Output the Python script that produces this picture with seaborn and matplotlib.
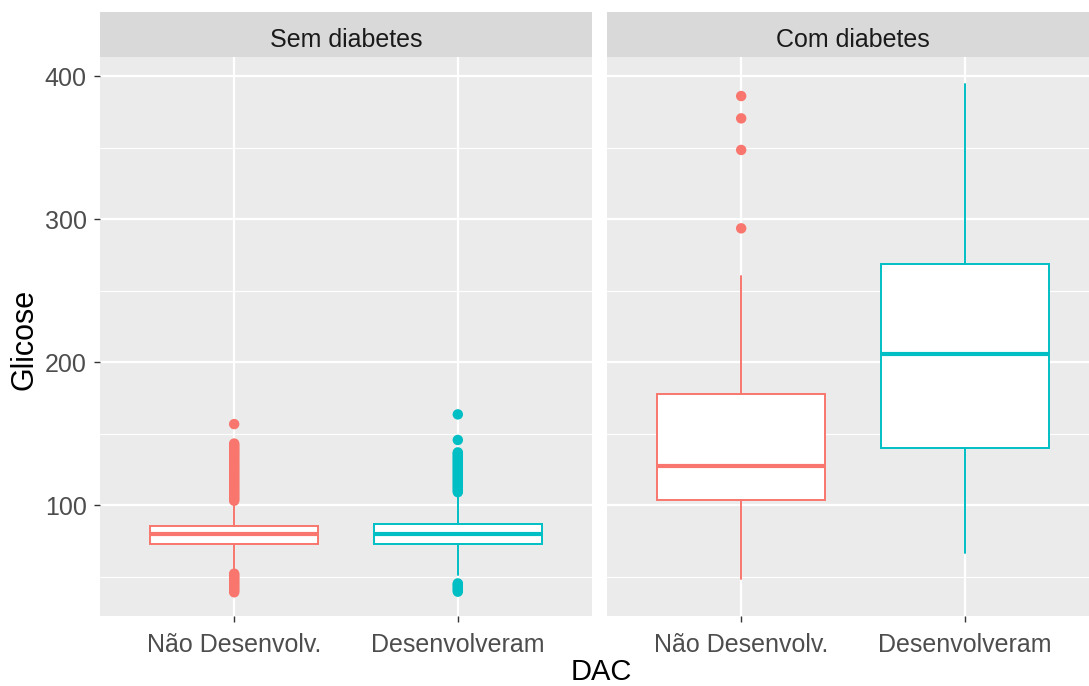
import matplotlib
matplotlib.use("Agg")
import matplotlib.pyplot as plt
import seaborn as sns
import pandas as pd
from matplotlib.patches import Rectangle

# ---------------- data ----------------
categories = ["Não Desenvolv.", "Desenvolveram"]
panels = ["Sem diabetes", "Com diabetes"]
colors = ["#F8766D", "#00BFC4"]

# box statistics per panel, per category: (whislo, q1, median, q3, whishi)
sem_q1 = [72.7, 72.7]
sem_med = [79.5, 79.8]
sem_q3 = [85.3, 86.7]
sem_whislo = [54.5, 51.0]
sem_whishi = [101.5, 107.0]

com_q1 = [103.7, 140.1]
com_med = [127.3, 205.6]
com_q3 = [177.8, 268.7]
com_whislo = [48.0, 66.2]
com_whishi = [260.0, 394.4]

# outliers
sem_out_nao = [39, 40, 41, 42, 43, 44, 45, 46, 47, 48, 49, 50, 51, 52,
               103, 104, 105, 106, 107, 108, 109, 110, 111, 112, 113, 114, 115,
               116, 117, 118, 119, 120, 121, 122, 123, 124, 125, 126, 127, 128,
               129, 130, 131, 132, 133, 134, 135, 136, 137, 138, 139, 140, 141,
               142, 143, 156.6]
sem_out_des = [39.4, 40.5, 41.5, 42.5, 43.5, 44.5, 45.2,
               109, 110, 111, 112, 113, 114, 115, 116, 117, 118, 119, 120, 121,
               122, 123, 124, 125, 126, 127, 128, 129, 130, 131, 132, 133, 134,
               135, 136, 136.8, 145.5, 163.4]
com_out_nao = [293.5, 348.3, 370.4, 386.0]
com_out_des = []

# ---------------- style ----------------
sns.set_theme(style="darkgrid")
plt.rcParams["font.family"] = ["Liberation Sans", "DejaVu Sans"]

W, H = 1089, 686
fig = plt.figure(figsize=(W / 100, H / 100), dpi=100)

top_px, bot_px = 57.3, 616.0
strip_top_px = 12.0
ax_h = (bot_px - top_px) / H
ax_b = 1 - bot_px / H
lefts = [100, 607]
width_px = 492

panel_stats = [
    (sem_whislo, sem_q1, sem_med, sem_q3, sem_whishi, [sem_out_nao, sem_out_des]),
    (com_whislo, com_q1, com_med, com_q3, com_whishi, [com_out_nao, com_out_des]),
]

TICK_COLOR = "#333333"
LABEL_COLOR = "#4D4D4D"
TICK_FS = 18

for pi, (lo, q1, med, q3, hi, outs) in enumerate(panel_stats):
    ax = fig.add_axes([lefts[pi] / W, ax_b, width_px / W, ax_h])
    ax.set_facecolor("#EBEBEB")

    # outliers through seaborn
    rows = []
    for ci, cat in enumerate(categories):
        for v in outs[ci]:
            rows.append({"DAC": cat, "Glicose": v})
    df = pd.DataFrame(rows, columns=["DAC", "Glicose"])
    if len(df):
        sns.stripplot(data=df, x="DAC", y="Glicose", hue="DAC", order=categories,
                      hue_order=categories, palette=colors, jitter=False, size=7.5,
                      linewidth=0, legend=False, ax=ax, zorder=3)

    # boxes
    for ci in range(len(categories)):
        stats = [dict(whislo=lo[ci], q1=q1[ci], med=med[ci], q3=q3[ci], whishi=hi[ci],
                      fliers=[])]
        ax.bxp(stats, positions=[ci], widths=0.75, patch_artist=True,
               showcaps=False, showfliers=False,
               boxprops=dict(facecolor="white", edgecolor=colors[ci], linewidth=1.4),
               whiskerprops=dict(color=colors[ci], linewidth=1.4),
               medianprops=dict(color=colors[ci], linewidth=3.0, solid_capstyle="butt"),
               manage_ticks=False, zorder=2)

    ax.set_xlim(-0.6, 1.6)
    ax.set_ylim(22.4, 413.1)
    ax.set_xticks(range(len(categories)))
    ax.set_xticklabels(categories)
    ax.set_yticks([100, 200, 300, 400])
    ax.set_yticks([50, 150, 250, 350], minor=True)
    ax.grid(which="major", color="white", linewidth=1.6)
    ax.grid(which="minor", axis="y", color="white", linewidth=0.8)
    ax.grid(which="major", axis="x", color="white", linewidth=1.6)
    ax.set_axisbelow(True)
    for s in ax.spines.values():
        s.set_visible(False)
    ax.set_xlabel("")
    ax.set_ylabel("")
    ax.tick_params(axis="x", which="major", length=4.5, width=1, color=TICK_COLOR,
                   labelsize=TICK_FS, labelcolor=LABEL_COLOR, pad=8, bottom=True)
    ax.tick_params(axis="y", which="major", length=4.5, width=1, color=TICK_COLOR,
                   labelsize=TICK_FS, labelcolor=LABEL_COLOR, pad=5, left=(pi == 0),
                   labelleft=(pi == 0))
    ax.tick_params(axis="y", which="minor", length=0)

    # facet strip
    strip_h = (top_px - strip_top_px) / (bot_px - top_px)
    ax.add_patch(Rectangle((0, 1), 1, strip_h, transform=ax.transAxes,
                           facecolor="#D9D9D9", edgecolor="none", clip_on=False))
    ax.text(0.5, 1 + strip_h / 2 - 5 / (bot_px - top_px), panels[pi],
            transform=ax.transAxes, ha="center", va="center", fontsize=TICK_FS,
            color="#1A1A1A")

fig.text(24 / W, 1 - 339 / H, "Glicose", rotation=90, ha="center", va="center",
         fontsize=22, color="black")
fig.text(601 / W, 1 - 672 / H, "DAC", ha="center", va="center", fontsize=21,
         color="black")

fig.savefig("out.png", dpi=100, facecolor="white")
